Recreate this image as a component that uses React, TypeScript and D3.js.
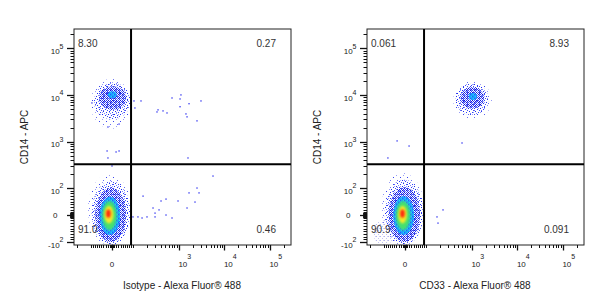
import React from "react";
import * as d3 from "d3";

const W = 607;
const H = 303;

// ---- data ----
const xTitles = ["Isotype - Alexa Fluor® 488", "CD33 - Alexa Fluor® 488"];
const yTitle = "CD14 - APC";
const xDomain = [-232, 291000];
const yDomain = [-116, 262144];
const xGate = 89;
const yGate = 324;
// UL, UR, LL, LR
const quadIsotype = ["8.30", "0.27", "91.0", "0.46"];
const quadCd33 = ["0.061", "8.93", "90.9", "0.091"];

const yMajorTicks = [-100, 0, 100, 1000, 10000, 100000];
const yTickBases = ["-10", "0", "10", "10", "10", "10"];
const yTickExps = ["2", "", "2", "3", "4", "5"];
const xMajorTicks = [0, 1000, 10000, 100000];
const xTickBases = ["0", "10", "10", "10"];
const xTickExps = ["", "3", "4", "5"];
const linearMinor = [1, 2, 3, 4, 5, 6, 7, 8, 9, 10, 20, 30, 40, 50, 60, 70, 80, 90];
const decadeMult = [2, 3, 4, 5, 6, 7, 8, 9];
const decades = [100, 1000, 10000, 100000];

// sparse events [x, y]
const isotypeEvents = [
  [103, 7450], [147, 7450], [108, 5260], [348, 4790], [330, 4320], [448, 4550], [548, 4110],
  [706, 8630], [1110, 10040], [1060, 8220], [1060, 5600], [1670, 6500], [1430, 3920],
  [1510, 3390], [2500, 2780], [3060, 7450], [1585, 443],
  [-94, 6750], [-19, 2050], [33, 2370], [-23, 626], [-19, 443], [19, 596], [33, 626], [0, 298],
  [163, 70], [98, -7], [126, -7], [155, -11], [199, -7], [270, 26], [299, 7], [299, -7],
  [366, 19], [405, 52], [521, 59], [521, 0], [706, -11], [957, 52], [1510, 26], [1670, 82],
  [2500, 100], [2770, 82], [2260, 48], [5620, 181],
];
const cd33Events = [
  [-37, 1030], [19, 800], [-80, 443], [607, 930], [171, -7], [232, 19], [180, -30],
];

// density levels of populations: [level, xLo, xHi, yLo, yHi]
const isoMainLevels: [string, number, number, number, number][] = [
  ["trace", -115, 89, -116, 200],
  ["sparse", -95, 86, -116, 140],
  ["dense", -78, 66, -100, 100],
  ["cyan", -58, 38, -74, 68],
  ["green", -46, 22, -56, 52],
  ["yellow", -36, 7, -31, 34],
  ["red", -28, -6, -10, 20],
];
const isoCd14Levels: [string, number, number, number, number][] = [
  ["trace", -100, 92, 1900, 22000],
  ["sparse", -85, 86, 3000, 18500],
  ["dense", -60, 66, 4800, 15500],
  ["cyan", -20, 22, 8500, 12000],
];
const cd33MainLevels: [string, number, number, number, number][] = [
  ["haze", -171, -47, -116, -19],
  ["trace", -112, 89, -116, 210],
  ["sparse", -95, 86, -116, 150],
  ["dense", -76, 70, -100, 104],
  ["cyan", -55, 42, -74, 70],
  ["green", -43, 25, -56, 52],
  ["yellow", -32, 9, -31, 34],
  ["red", -23, -1, -10, 20],
];
const cd33Cd14Levels: [string, number, number, number, number][] = [
  ["trace", 390, 2700, 3000, 20000],
  ["sparse", 440, 2300, 3700, 17500],
  ["dense", 560, 1850, 5100, 14800],
  ["cyan", 850, 1300, 7800, 11000],
];

// ---- transform ----
function biex(v: number, a: number) {
  const m = Math.abs(v);
  return m <= 100 ? (v / 100) * a : Math.sign(v) * (a + Math.log10(m / 100));
}
const AX = 0.47;
const AY = 0.58;

const TOP = 29;
const BOTTOM = 245;
const PW = 217;
const LEFTS = [74, 367];

const levelFill: Record<string, string> = {
  trace: "url(#pTrace)",
  sparse: "url(#pSparse)",
  dense: "url(#pDense)",
  cyan: "url(#pCyan)",
  green: "#44e070",
  yellow: "#f2ea2a",
  red: "#ff2a10",
  haze: "url(#pHaze)",
};
const blurred: Record<string, boolean> = { green: true, yellow: true, red: true };

const FONT = "'Liberation Sans', Arial, sans-serif";

function Panel({ idx, quad, events, levelSets }: any) {
  const left = LEFTS[idx];
  const xl = d3.scaleLinear().domain([biex(xDomain[0], AX), biex(xDomain[1], AX)]).range([left, left + PW]);
  const yl = d3.scaleLinear().domain([biex(yDomain[0], AY), biex(yDomain[1], AY)]).range([BOTTOM, TOP]);
  const sx = (v: number) => xl(biex(v, AX));
  const sy = (v: number) => yl(biex(v, AY));

  const yMinor: number[] = [];
  linearMinor.forEach((m) => { yMinor.push(m, -m); });
  decades.forEach((d) => decadeMult.forEach((k) => { const v = d * k; if (v < yDomain[1]) yMinor.push(v); }));
  const xMinor: number[] = [-100, -200, 100];
  linearMinor.forEach((m) => { xMinor.push(m, -m); });
  decades.forEach((d) => decadeMult.forEach((k) => { const v = d * k; if (v < xDomain[1]) xMinor.push(v); }));

  const clipId = `clip${idx}`;
  const gx = sx(xGate);
  const gy = sy(yGate);
  return (
    <g>
      <defs>
        <clipPath id={clipId}>
          <rect x={left} y={TOP} width={PW} height={BOTTOM - TOP} />
        </clipPath>
      </defs>
      <g clipPath={`url(#${clipId})`}>
        {levelSets.map((levels: any[], li: number) =>
          levels.map((l: any, i: number) => {
            const [name, x0, x1, y0, y1] = l;
            const cx = (sx(x0) + sx(x1)) / 2;
            const cy = (sy(y0) + sy(y1)) / 2;
            return (
              <ellipse
                key={`${li}-${i}`}
                cx={cx}
                cy={cy}
                rx={Math.abs(sx(x1) - sx(x0)) / 2}
                ry={Math.abs(sy(y1) - sy(y0)) / 2}
                fill={levelFill[name]}
                filter={blurred[name] ? "url(#soft)" : undefined}
              />
            );
          })
        )}
        {events.map((e: number[], i: number) => (
          <rect key={i} x={sx(e[0]) - 0.7} y={sy(e[1]) - 0.7} width={1.4} height={1.4} fill="#2a2ef0" opacity={0.85} />
        ))}
      </g>
      {/* frame */}
      <rect x={left} y={TOP} width={PW} height={BOTTOM - TOP} fill="none" stroke="#222" strokeWidth={1} />
      {/* gates */}
      <line x1={gx} x2={gx} y1={TOP} y2={BOTTOM} stroke="#000" strokeWidth={2} />
      <line x1={left} x2={left + PW} y1={gy} y2={gy} stroke="#000" strokeWidth={2} />
      {/* y ticks */}
      {yMinor.map((v, i) => (
        <line key={`ym${i}`} x1={left - 3.5} x2={left} y1={Math.round(sy(v)) + 0.5} y2={Math.round(sy(v)) + 0.5} stroke="#111" strokeWidth={1} />
      ))}
      {yMajorTicks.map((v, i) => (
        <line key={`yM${i}`} x1={left - 7} x2={left} y1={Math.round(sy(v)) + 0.5} y2={Math.round(sy(v)) + 0.5} stroke="#111" strokeWidth={1.3} />
      ))}
      {yMajorTicks.map((v, i) => {
        const y = sy(v);
        if (yTickExps[i] === "") {
          return (
            <text key={`yl${i}`} x={left - 16.5} y={y + 3} textAnchor="end" fontSize={8} fontFamily={FONT} fill="#222">
              {yTickBases[i]}
            </text>
          );
        }
        return (
          <text key={`yl${i}`} x={left - 10.5} y={y + 5.6} textAnchor="end" fontSize={8} fontFamily={FONT} fill="#222">
            {yTickBases[i]}
            <tspan dy={-5.3} fontSize={7}>{yTickExps[i]}</tspan>
          </text>
        );
      })}
      {/* x ticks */}
      {xMinor.map((v, i) => (
        <line key={`xm${i}`} y1={BOTTOM} y2={BOTTOM + 3} x1={Math.round(sx(v)) + 0.5} x2={Math.round(sx(v)) + 0.5} stroke="#111" strokeWidth={1} />
      ))}
      {xMajorTicks.map((v, i) => (
        <line key={`xM${i}`} y1={BOTTOM} y2={BOTTOM + 5.5} x1={Math.round(sx(v)) + 0.5} x2={Math.round(sx(v)) + 0.5} stroke="#111" strokeWidth={1.3} />
      ))}
      {xMajorTicks.map((v, i) => {
        const x = sx(v);
        if (xTickExps[i] === "") {
          return (
            <text key={`xl${i}`} x={x} y={267} textAnchor="middle" fontSize={8} fontFamily={FONT} fill="#222">
              {xTickBases[i]}
            </text>
          );
        }
        return (
          <text key={`xl${i}`} x={x - 0.5} y={267} textAnchor="start" fontSize={8} fontFamily={FONT} fill="#222">
            {xTickBases[i]}
            <tspan dy={-8.3} fontSize={7}>{xTickExps[i]}</tspan>
          </text>
        );
      })}
      {/* titles */}
      <text x={left + 108} y={289} textAnchor="middle" fontSize={10} fontFamily={FONT} fill="#222">
        {xTitles[idx]}
      </text>
      <text transform={`translate(${left - 46},137) rotate(-90)`} textAnchor="middle" fontSize={10} fontFamily={FONT} fill="#222">
        {yTitle}
      </text>
      {/* quadrant percentages */}
      <text x={left + 4} y={47} fontSize={10} fontFamily={FONT} fill="#333">{quad[0]}</text>
      <text x={left + 202} y={47} textAnchor="end" fontSize={10} fontFamily={FONT} fill="#333">{quad[1]}</text>
      <text x={left + 4} y={233} fontSize={10} fontFamily={FONT} fill="#333">{quad[2]}</text>
      <text x={left + 202} y={233} textAnchor="end" fontSize={10} fontFamily={FONT} fill="#333">{quad[3]}</text>
    </g>
  );
}

export default function App() {
  return (
    <svg width={W} height={H} style={{ position: "absolute", left: 0, top: 0, background: "#fff" }}>
      <defs>
        <filter id="soft" x="-50%" y="-50%" width="200%" height="200%">
          <feGaussianBlur stdDeviation={1.1} />
        </filter>
        <pattern id="pTrace" width={7} height={7} patternUnits="userSpaceOnUse">
          <rect x={1} y={2} width={1} height={1} fill="#3a44f0" />
          <rect x={5} y={5} width={1} height={1} fill="#6a70f4" />
          <rect x={4} y={0} width={1} height={1} fill="#9a9ef6" />
        </pattern>
        <pattern id="pSparse" width={6} height={6} patternUnits="userSpaceOnUse">
          <rect x={0} y={0} width={1} height={1} fill="#1f2ef0" />
          <rect x={3} y={1} width={1} height={1} fill="#2a3aff" />
          <rect x={1} y={3} width={1} height={1} fill="#1f2ef0" />
          <rect x={4} y={4} width={1} height={1} fill="#3344ff" />
          <rect x={2} y={5} width={1} height={1} fill="#7c84ff" />
          <rect x={5} y={2} width={1} height={1} fill="#4652f6" />
          <rect x={4} y={0} width={1} height={1} fill="#9aa0ff" />
        </pattern>
        <pattern id="pDense" width={4} height={4} patternUnits="userSpaceOnUse">
          <rect x={0} y={0} width={1} height={1} fill="#1414c8" />
          <rect x={2} y={0} width={1} height={1} fill="#3040ff" />
          <rect x={1} y={1} width={1} height={1} fill="#2a3cf8" />
          <rect x={3} y={1} width={1} height={1} fill="#1a1ad8" />
          <rect x={0} y={2} width={1} height={1} fill="#3a4aff" />
          <rect x={2} y={2} width={1} height={1} fill="#1414c8" />
          <rect x={1} y={3} width={1} height={1} fill="#6a78ff" />
          <rect x={3} y={3} width={1} height={1} fill="#2a3cf8" />
          <rect x={3} y={2} width={1} height={1} fill="#8c96ff" />
        </pattern>
        <pattern id="pCyan" width={4} height={4} patternUnits="userSpaceOnUse">
          <rect x={0} y={0} width={4} height={4} fill="#1aa0ff" />
          <rect x={0} y={0} width={1} height={1} fill="#2b50ff" />
          <rect x={2} y={2} width={1} height={1} fill="#2b50ff" />
          <rect x={1} y={2} width={1} height={1} fill="#22d8f0" />
          <rect x={3} y={0} width={1} height={1} fill="#22d8f0" />
        </pattern>
        <pattern id="pHaze" width={4} height={4} patternUnits="userSpaceOnUse">
          <rect x={0} y={0} width={1} height={1} fill="#b4b4ee" />
          <rect x={2} y={2} width={1} height={1} fill="#c4c4f4" />
          <rect x={3} y={0} width={1} height={1} fill="#d0d0f6" />
        </pattern>
      </defs>
      <Panel idx={0} quad={quadIsotype} events={isotypeEvents} levelSets={[isoCd14Levels, isoMainLevels]} />
      <Panel idx={1} quad={quadCd33} events={cd33Events} levelSets={[cd33Cd14Levels, cd33MainLevels]} />
    </svg>
  );
}
